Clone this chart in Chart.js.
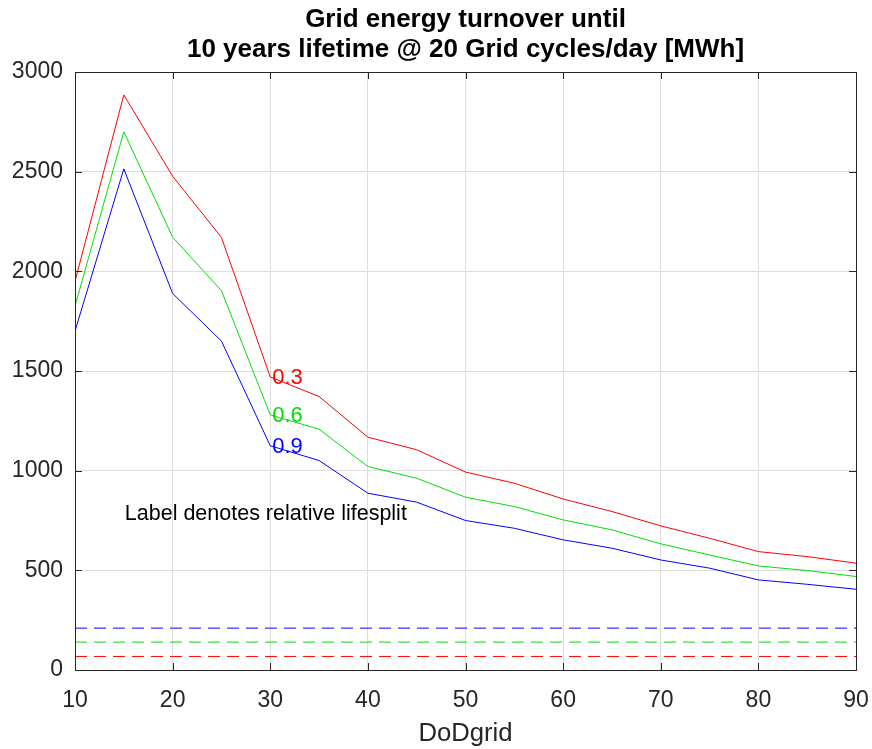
<!DOCTYPE html>
<html>
<head>
<meta charset="utf-8">
<title>Grid energy turnover</title>
<script src="https://cdn.jsdelivr.net/npm/chart.js@4.4.0/dist/chart.umd.min.js"></script>
<style>
  html, body { margin: 0; padding: 0; background: #fff; }
  #chart-container { width: 872px; height: 749px; }
</style>
</head>
<body>
<div id="chart-container"><canvas id="turnover-chart"></canvas></div>
<script>
const dodGrid = [10, 15, 20, 25, 30, 35, 40, 45, 50, 55, 60, 65, 70, 75, 80, 85, 90]
const lifesplit = ['0.3', '0.6', '0.9']
const turnover03 = [1950, 2885, 2477, 2170, 1470, 1372, 1168, 1105, 993, 937, 858, 795, 723, 661, 594, 569, 536]
const turnover06 = [1826, 2700, 2171, 1903, 1280, 1208, 1021, 962, 867, 820, 753, 703, 633, 577, 522, 499, 469]
const turnover09 = [1700, 2514, 1889, 1650, 1125, 1051, 887, 842, 750, 711, 653, 611, 552, 511, 452, 430, 405]
const baseline = [68, 140, 210]
const xTicks = [10, 20, 30, 40, 50, 60, 70, 80, 90]
const yTicks = [0, 500, 1000, 1500, 2000, 2500, 3000]
const titleLines = ['Grid energy turnover until', '10 years lifetime @ 20 Grid cycles/day [MWh]']
const noteText = 'Label denotes relative lifesplit'

const colors = ['#ff0000', '#00e000', '#0000ff']
const textColors = ['#ff0000', '#00dd00', '#0000ff']
const axisColor = '#262626'
const font = 'Liberation Sans, Arial, Helvetica, sans-serif'
const series = [turnover03, turnover06, turnover09]

const toPoints = (vals) => dodGrid.map((x, i) => ({ x: x, y: vals[i] }))

const datasets = []
series.forEach((vals, i) => {
  datasets.push({
    label: lifesplit[i],
    data: toPoints(vals),
    borderColor: colors[i],
    borderWidth: 1,
    pointRadius: 0,
    tension: 0
  })
})
baseline.forEach((b, i) => {
  datasets.push({
    label: lifesplit[i] + ' base',
    data: [{ x: dodGrid[0], y: b }, { x: dodGrid[dodGrid.length - 1], y: b }],
    borderColor: colors[i],
    borderWidth: 1,
    borderDash: [12, 7],
    pointRadius: 0
  })
})

// title, frame with inward ticks, and text labels
const decorPlugin = {
  id: 'decor',
  afterDraw(chart) {
    const { ctx, chartArea: a, scales } = chart
    const xs = scales.x, ys = scales.y
    ctx.save()
    ctx.strokeStyle = axisColor
    ctx.lineWidth = 1
    ctx.strokeRect(Math.round(a.left) + 0.5, Math.round(a.top) + 0.5, Math.round(a.right - a.left), Math.round(a.bottom - a.top))
    const tl = 7
    ctx.beginPath()
    xTicks.forEach(v => {
      const px = Math.round(xs.getPixelForValue(v)) + 0.5
      ctx.moveTo(px, a.bottom); ctx.lineTo(px, a.bottom - tl)
      ctx.moveTo(px, a.top); ctx.lineTo(px, a.top + tl)
    })
    yTicks.forEach(v => {
      const py = Math.round(ys.getPixelForValue(v)) + 0.5
      ctx.moveTo(a.left, py); ctx.lineTo(a.left + tl, py)
      ctx.moveTo(a.right, py); ctx.lineTo(a.right - tl, py)
    })
    ctx.stroke()

    ctx.fillStyle = '#000'
    ctx.textAlign = 'center'
    ctx.textBaseline = 'middle'
    ctx.font = 'bold 26px ' + font
    const cx = (a.left + a.right) / 2
    titleLines.forEach((t, i) => ctx.fillText(t, cx, 20 + i * 30))

    ctx.textAlign = 'left'
    ctx.font = '22px ' + font
    const idx = dodGrid.indexOf(30)
    series.forEach((vals, i) => {
      ctx.fillStyle = textColors[i]
      ctx.fillText(lifesplit[i], xs.getPixelForValue(30) + 2, ys.getPixelForValue(vals[idx]) + 1)
    })
    ctx.fillStyle = '#000'
    ctx.font = '21.5px ' + font
    ctx.fillText(noteText, xs.getPixelForValue(15) + 1, ys.getPixelForValue(780))
    ctx.restore()
  }
}

const ctx = document.getElementById('turnover-chart')
new Chart(ctx, {
  type: 'line',
  data: { datasets: datasets },
  options: {
    responsive: true,
    maintainAspectRatio: false,
    animation: false,
    layout: { padding: { top: 72, right: 16, left: 0, bottom: 0 } },
    plugins: {
      legend: { display: false },
      title: { display: false },
      tooltip: { enabled: false }
    },
    scales: {
      x: {
        type: 'linear',
        min: 10,
        max: 90,
        afterFit: (scale) => {
          scale.height = 79
          scale.paddingLeft = 0
          scale.paddingRight = 0
        },
        afterBuildTicks: (scale) => { scale.ticks = xTicks.map(v => ({ value: v })) },
        ticks: { color: axisColor, font: { family: font, size: 23 }, padding: 17, maxRotation: 0, callback: (v) => String(v) },
        grid: { color: '#dedede', drawTicks: false },
        border: { display: false },
        title: {
          display: true,
          text: 'DoDgrid',
          color: axisColor,
          font: { family: font, size: 25.7, lineHeight: 1.2 },
          padding: { top: 0, bottom: 0 }
        }
      },
      y: {
        min: 0,
        max: 3000,
        afterFit: (scale) => {
          scale.width = 75
          scale.paddingTop = 0
          scale.paddingBottom = 0
        },
        afterBuildTicks: (scale) => { scale.ticks = yTicks.map(v => ({ value: v })) },
        ticks: { color: axisColor, font: { family: font, size: 23 }, padding: 12, callback: (v) => String(v) },
        grid: { color: '#dedede', drawTicks: false },
        border: { display: false }
      }
    }
  },
  plugins: [decorPlugin]
});
</script>
</body>
</html>
